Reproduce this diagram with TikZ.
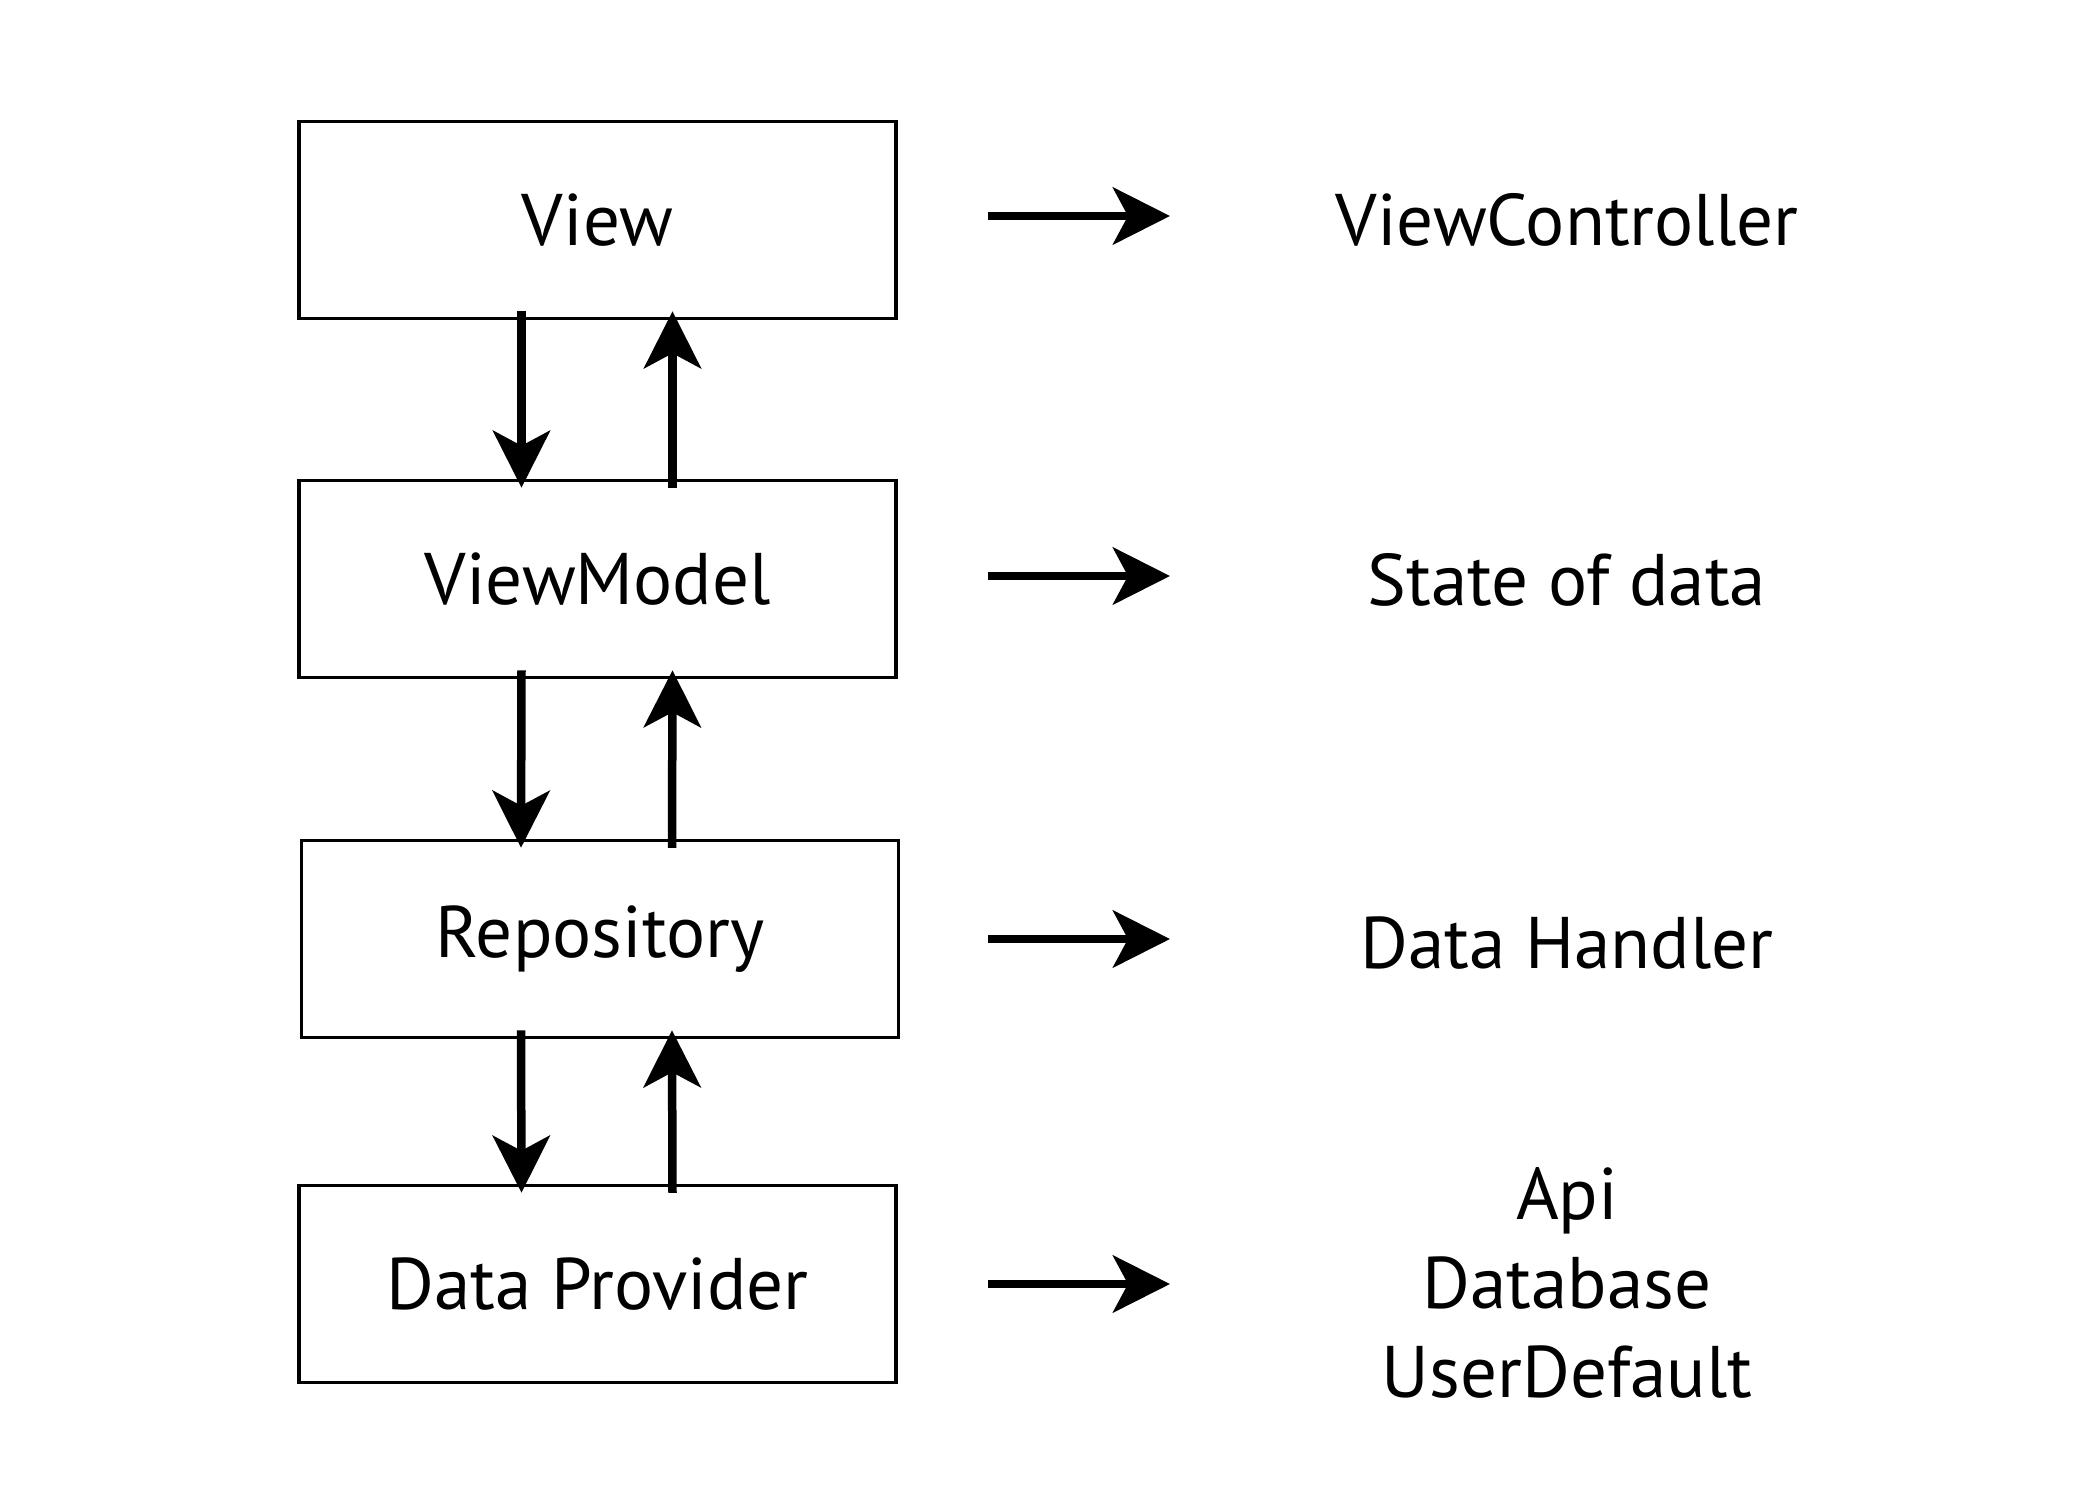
\documentclass[tikz,border=0pt]{standalone}
\usepackage{fontspec}
\setmainfont{PT Sans}
\usetikzlibrary{arrows.meta,calc}
\tikzset{
>={Stealth[length=5.7mm,width=5.7mm,inset=1.5mm]},
layer node/.style={draw,line width=0.035cm,minimum width=5.97cm,minimum height=1.97cm,inner sep=0pt},
role node/.style={align=center,inner sep=0pt},
freccia/.style={->,line width=0.085cm}}

\begin{document}
\begin{tikzpicture}[font=\fontsize{20.8}{25.4}\selectfont]

\useasboundingbox (0,0) rectangle (21,-15);

\node[layer node] (view) at (5.975,-2.2) {View};
\node[layer node] (vm) at (5.975,-5.79) {ViewModel};
\node[layer node] (repo) at (6.0,-9.39) {Repository};
\node[layer node] (dp) at (5.975,-12.84) {Data Provider};

\node[role node] (vc) at (15.67,-2.2) {ViewController};
\node[role node] (state) at (15.67,-5.8) {State of data};
\node[role node] (handler) at (15.67,-9.43) {Data Handler};
\node[role node] (sources) at (15.67,-12.83) {Api\\Database\\UserDefault};

% vertical flows
\path[freccia] ([xshift=-0.76cm,yshift=0.09cm]view.south) edge ([xshift=-0.76cm,yshift=-0.09cm]vm.north);
\path[freccia] ([xshift=0.75cm,yshift=-0.09cm]vm.north) edge ([xshift=0.75cm,yshift=0.09cm]view.south);
\path[freccia] ([xshift=-0.76cm,yshift=0.09cm]vm.south) edge ([xshift=-0.79cm,yshift=-0.09cm]repo.north);
\path[freccia] ([xshift=0.72cm,yshift=-0.09cm]repo.north) edge ([xshift=0.75cm,yshift=0.09cm]vm.south);
\path[freccia] ([xshift=-0.79cm,yshift=0.09cm]repo.south) edge ([xshift=-0.76cm,yshift=-0.09cm]dp.north);
\path[freccia] ([xshift=0.75cm,yshift=-0.09cm]dp.north) edge ([xshift=0.72cm,yshift=0.09cm]repo.south);

% right arrows
\coordinate (a1) at (9.88,-2.16);
\coordinate (b1) at (11.70,-2.16);
\coordinate (a2) at (9.88,-5.76);
\coordinate (b2) at (11.70,-5.76);
\coordinate (a3) at (9.88,-9.39);
\coordinate (b3) at (11.70,-9.39);
\coordinate (a4) at (9.88,-12.84);
\coordinate (b4) at (11.70,-12.84);

\path[freccia] (a1) edge (b1);
\path[freccia] (a2) edge (b2);
\path[freccia] (a3) edge (b3);
\path[freccia] (a4) edge (b4);

\end{tikzpicture}
\end{document}
